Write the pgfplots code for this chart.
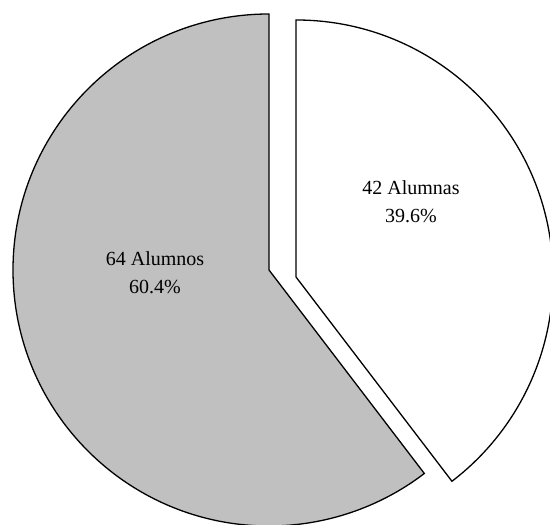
\documentclass[border=0pt]{standalone}
\usepackage{pgfplots}
\pgfplotsset{compat=1.18}
\usepackage{pgfplotstable}
\usepackage{fontspec}
\setmainfont{Liberation Serif}
\definecolor{PieGray}{HTML}{C0C0C0}

\pgfplotstableread{
label   n
Alumnos 64
Alumnas 42
}\piedata

\begin{document}
\begin{tikzpicture}
  \pgfkeys{/pgf/number format/assume math mode=true}
  \pgfplotstablegetelem{0}{n}\of\piedata \let\nA\pgfplotsretval
  \pgfplotstablegetelem{1}{n}\of\piedata \let\nB\pgfplotsretval
  \pgfmathsetmacro{\tot}{\nA+\nB}
  \pgfmathsetmacro{\angB}{360*\nB/\tot}
  \pgfmathsetmacro{\pA}{100*\nA/\tot}
  \pgfmathsetmacro{\pB}{100*\nB/\tot}
  \begin{axis}[
    hide axis, scale only axis,
    x=0.5pt, y=0.5pt,
    xmin=0, xmax=550, ymin=-524, ymax=0,
    clip=true,
    every node/.style={anchor=base, font=\fontsize{12.4}{14}\selectfont},
    ]
    % Alumnos (gray), from top going counterclockwise
    \filldraw[fill=PieGray, draw=black, line width=0.65pt, line join=miter]
      (axis cs:269,-270) -- ++(90:128pt)
      arc[start angle=90, end angle={450-\angB}, radius=128pt] -- cycle;
    % Alumnas (white), exploded slice
    \filldraw[fill=white, draw=black, line width=0.65pt, line join=miter]
      (axis cs:296,-277) -- ++(90:128.5pt)
      arc[start angle=90, end angle={90-\angB}, radius=128.5pt] -- cycle;
    \node at (axis cs:155,-259) {\nA\ Alumnos};
    \node at (axis cs:155,-287)
      {\pgfmathprintnumber[fixed,precision=1,fixed zerofill]{\pA}\%};
    \node at (axis cs:411,-188) {\nB\ Alumnas};
    \node at (axis cs:411,-216)
      {\pgfmathprintnumber[fixed,precision=1,fixed zerofill]{\pB}\%};
  \end{axis}
  \pgfresetboundingbox
  \useasboundingbox (current axis.south west) rectangle (current axis.north east);
\end{tikzpicture}
\end{document}
